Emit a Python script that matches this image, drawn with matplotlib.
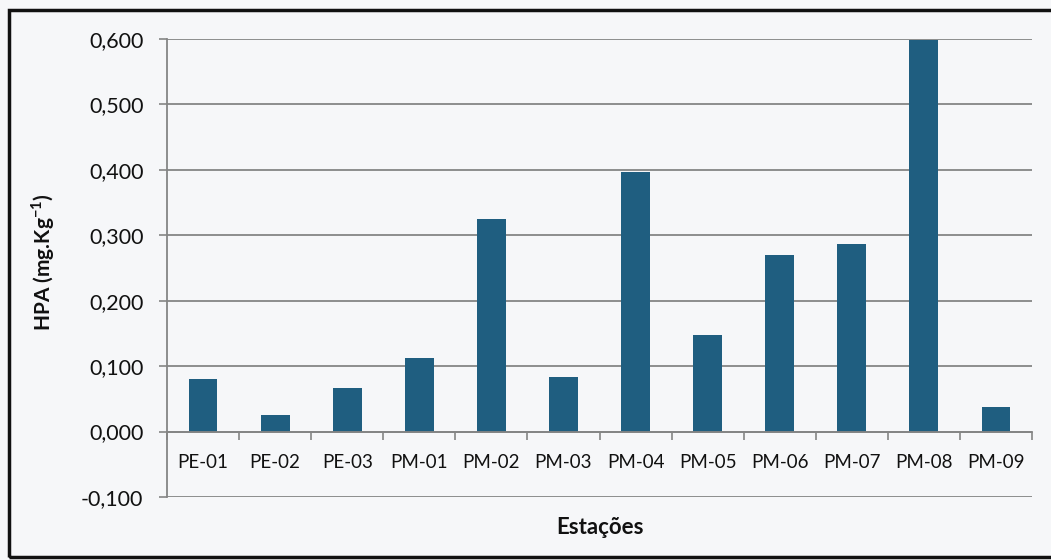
import matplotlib
matplotlib.use("Agg")
import matplotlib.pyplot as plt
from matplotlib.patches import Rectangle
from matplotlib.ticker import FuncFormatter, FixedLocator

plt.rcParams['font.family'] = ['Lato', 'DejaVu Sans']
plt.rcParams['mathtext.fontset'] = 'custom'
plt.rcParams['mathtext.rm'] = 'Lato'
plt.rcParams['mathtext.bf'] = 'Lato:bold'

stations = ['PE-01', 'PE-02', 'PE-03', 'PM-01', 'PM-02', 'PM-03',
            'PM-04', 'PM-05', 'PM-06', 'PM-07', 'PM-08', 'PM-09']
hpa = [0.081, 0.026, 0.067, 0.113, 0.325, 0.083,
       0.397, 0.148, 0.270, 0.287, 0.598, 0.038]
y_ticks = [-0.1, 0.0, 0.1, 0.2, 0.3, 0.4, 0.5, 0.6]

W, H = 1051, 560
fig = plt.figure(figsize=(W / 100, H / 100), dpi=100)
bg = '#f6f7f9'
fig.patch.set_facecolor(bg)

ax = fig.add_axes([167 / W, 1 - 497 / H, (1032 - 167) / W, (497 - 39) / H])
ax.set_facecolor(bg)

x = list(range(len(stations)))
ax.bar(x, hpa, width=0.4, color='#1f5e80', zorder=3)

ax.set_xlim(-0.5, len(stations) - 0.5)
ax.set_ylim(-0.1, 0.6)

grid_c = '#858585'
ax.set_yticks(y_ticks)
ax.yaxis.set_major_formatter(FuncFormatter(lambda v, p: f"{v:.3f}".replace('.', ',').replace('-0,000', '0,000')))
ax.grid(axis='y', color=grid_c, linewidth=1.3, zorder=1)
ax.tick_params(axis='y', length=6, width=1.2, color=grid_c, pad=11, labelsize=15.5, labelcolor='#111111')

ax.spines['bottom'].set_position(('data', 0))
ax.spines['bottom'].set_color(grid_c)
ax.spines['bottom'].set_linewidth(1.3)
ax.spines['bottom'].set_zorder(4)
ax.spines['left'].set_color(grid_c)
ax.spines['left'].set_linewidth(1.3)
ax.spines['top'].set_visible(False)
ax.spines['right'].set_visible(False)

ax.set_xticks(x)
ax.set_xticklabels(stations)
ax.xaxis.set_minor_locator(FixedLocator([i - 0.5 for i in range(len(stations) + 1)]))
ax.tick_params(axis='x', which='major', length=0, pad=16, labelsize=13.5, labelcolor='#111111')
ax.tick_params(axis='x', which='minor', length=6, width=1.2, color=grid_c, direction='out')

fig.text((167 + 1032) / 2 / W, 1 - 528 / H, 'Estações', ha='center', va='center',
         fontsize=16, fontweight='bold', color='#111111')
fig.text(43 / W, 1 - 262 / H, r'HPA (mg.Kg$^{\mathbf{-1}}$)', ha='center', va='center',
         rotation=90, fontsize=15, fontweight='bold', color='#111111')

frame = Rectangle((9 / W, 1 - 557 / H), (W + 20) / W, (557 - 10) / H,
                  transform=fig.transFigure, fill=False, edgecolor='#111111',
                  linewidth=2.5, clip_on=False)
fig.patches.append(frame)

fig.savefig('out.png', dpi=100, facecolor=bg)
